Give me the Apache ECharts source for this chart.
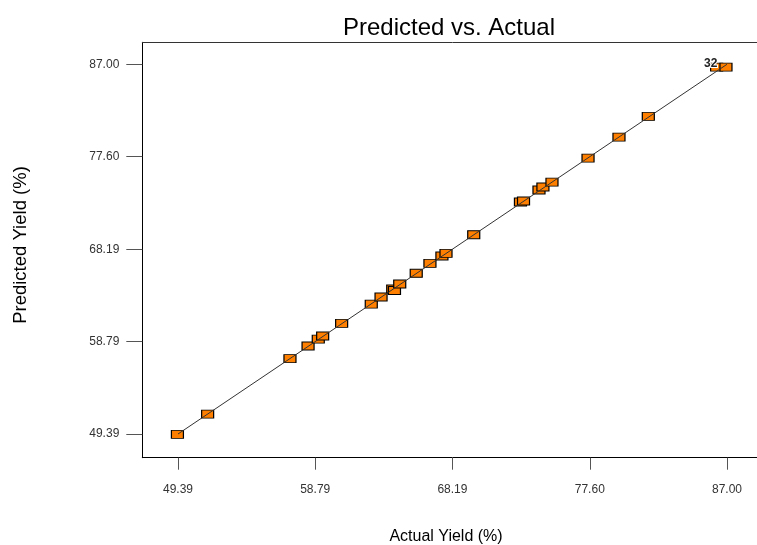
<!DOCTYPE html>
<html>
<head>
<meta charset="utf-8">
<script src="https://cdn.jsdelivr.net/npm/echarts@6/dist/echarts.min.js"></script>
<style>
html,body{margin:0;padding:0;background:#fff;overflow:hidden;width:757px;height:545px;}
#chart{width:763px;height:545px;}
</style>
</head>
<body>
<div id="chart"></div>
<script>
const actualYield = [49.35, 51.42, 57.06, 58.30, 59.00, 59.30, 60.60, 62.63, 63.30, 64.10, 64.22, 64.58, 65.71, 66.65, 67.47, 67.75, 69.65, 72.85, 73.06, 74.12, 74.39, 75.01, 77.48, 79.60, 81.61, 86.29, 86.93];
const predictedYield = [49.36, 51.42, 57.05, 58.34, 59.05, 59.36, 60.65, 62.61, 63.33, 64.14, 63.99, 64.65, 65.74, 66.75, 67.50, 67.77, 69.66, 72.99, 73.09, 74.21, 74.52, 75.02, 77.46, 79.60, 81.70, 86.72, 86.72];
const pointLabels = ['', '', '', '', '', '', '', '', '', '', '', '', '', '', '', '', '', '', '', '', '', '', '', '', '', '32', ''];
const tickValues = [49.39, 58.79, 68.19, 77.60, 87.00];
const fitLine = [49.39, 87.00];
const titleText = 'Predicted vs. Actual';
const xName = 'Actual Yield (%)';
const yName = 'Predicted Yield (%)';

const FONT = '"Liberation Sans", Arial, sans-serif';
const chart = echarts.init(document.getElementById('chart'), null, {renderer: 'canvas'});

const scatterData = actualYield.map((x, i) => ({
  value: [x, predictedYield[i]],
  label: {show: pointLabels[i] !== '', formatter: pointLabels[i]}
}));

const xMin = 46.944, xMax = 89.446;
const option = {
  animation: false,
  backgroundColor: '#ffffff',
  grid: {left: 142.3, top: 42.3, bottom: 87.3, right: 0.3, show: false, containLabel: false},
  xAxis: [{
    type: 'value', min: xMin, max: xMax,
    axisLine: {show: true, lineStyle: {color: '#000', width: 1}},
    axisTick: {show: true, customValues: tickValues, length: 12, lineStyle: {color: '#555'}},
    axisLabel: {customValues: tickValues, formatter: v => v.toFixed(2), margin: 26, fontSize: 12, color: '#333', fontFamily: FONT},
    splitLine: {show: false}
  }, {
    type: 'value', position: 'top', min: xMin, max: xMax,
    axisLine: {show: true, lineStyle: {color: '#333', width: 1}},
    axisTick: {show: false}, axisLabel: {show: false}, splitLine: {show: false}
  }],
  yAxis: {
    type: 'value', min: 46.979, max: 89.238,
    axisLine: {show: true, lineStyle: {color: '#000', width: 1}},
    axisTick: {show: true, customValues: tickValues, length: 16, lineStyle: {color: '#555'}},
    axisLabel: {customValues: tickValues, formatter: v => v.toFixed(2), margin: 23, fontSize: 12, color: '#333', fontFamily: FONT},
    splitLine: {show: false}
  },
  graphic: [
    {type: 'text', x: 449, y: 28, z: 10, style: {text: titleText, font: '24px ' + FONT, fill: '#000', align: 'center', verticalAlign: 'middle'}},
    {type: 'text', x: 446, y: 537, z: 10, style: {text: xName, font: '16px ' + FONT, fill: '#000', align: 'center', verticalAlign: 'middle'}},
    {type: 'text', x: 21, y: 245, rotation: Math.PI / 2, z: 10, style: {text: yName, font: '18.5px ' + FONT, fill: '#000', align: 'center', verticalAlign: 'middle'}}
  ],
  series: [
    {
      type: 'scatter', z: 2, xAxisIndex: 0,
      symbol: 'rect', symbolSize: [12, 8],
      itemStyle: {color: '#FF8000', borderColor: '#000', borderWidth: 1, opacity: 1},
      label: {position: 'inside', offset: [-6, -3], fontSize: 12, fontWeight: 'bold', color: '#222', fontFamily: FONT, textBorderColor: '#fff', textBorderWidth: 2},
      data: scatterData
    },
    {
      type: 'line', z: 3, symbol: 'none', xAxisIndex: 0,
      lineStyle: {color: '#333', width: 1},
      data: [[fitLine[0], fitLine[0]], [fitLine[1], fitLine[1]]]
    }
  ]
};
chart.setOption(option);
</script>
</body>
</html>
